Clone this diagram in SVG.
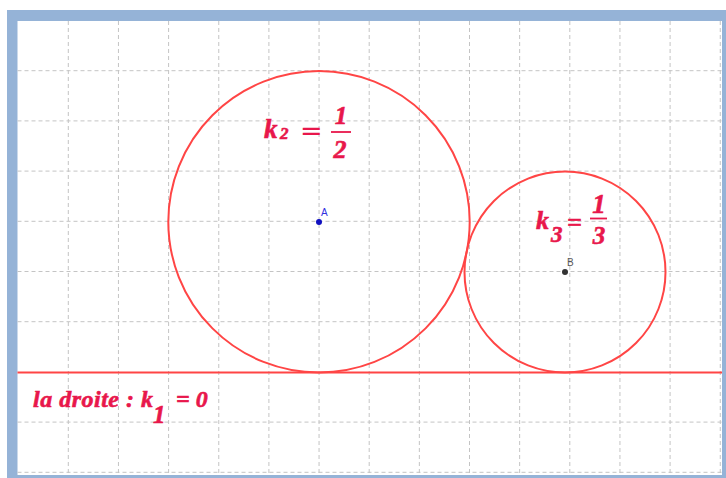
<svg xmlns="http://www.w3.org/2000/svg" width="726" height="478" viewBox="0 0 726 478">
<defs>
<style>
.grid line{stroke:#c4c4c4;stroke-width:1;stroke-dasharray:4,3}
.circ{fill:none;stroke:#ff4545;stroke-width:2}
.lbl{fill:#e8174b;stroke:#e8174b;stroke-width:0.6;font-family:"Liberation Serif","Times New Roman",serif;font-weight:bold;font-style:italic}
.bar{stroke:#e8174b;stroke-width:1.8}
.pt{font-family:"Liberation Sans",Arial,sans-serif;font-size:10px}
</style>
</defs>
<rect x="0" y="0" width="726" height="478" fill="#ffffff"/>
<rect x="7" y="10" width="719" height="468" fill="#95b3d7"/>
<rect x="17.5" y="21" width="704.5" height="454" fill="#ffffff"/>
<g class="grid">
<line x1="68.3" y1="21" x2="68.3" y2="475"/>
<line x1="118.45" y1="21" x2="118.45" y2="475"/>
<line x1="168.6" y1="21" x2="168.6" y2="475"/>
<line x1="218.75" y1="21" x2="218.75" y2="475"/>
<line x1="268.9" y1="21" x2="268.9" y2="475"/>
<line x1="319.05" y1="21" x2="319.05" y2="475"/>
<line x1="369.2" y1="21" x2="369.2" y2="475"/>
<line x1="419.35" y1="21" x2="419.35" y2="475"/>
<line x1="469.5" y1="21" x2="469.5" y2="475"/>
<line x1="519.65" y1="21" x2="519.65" y2="475"/>
<line x1="569.8" y1="21" x2="569.8" y2="475"/>
<line x1="619.95" y1="21" x2="619.95" y2="475"/>
<line x1="670.1" y1="21" x2="670.1" y2="475"/>
<line x1="720.25" y1="21" x2="720.25" y2="475"/>
<line x1="17.5" y1="70.7" x2="722" y2="70.7"/>
<line x1="17.5" y1="120.9" x2="722" y2="120.9"/>
<line x1="17.5" y1="171.1" x2="722" y2="171.1"/>
<line x1="17.5" y1="221.3" x2="722" y2="221.3"/>
<line x1="17.5" y1="271.5" x2="722" y2="271.5"/>
<line x1="17.5" y1="321.7" x2="722" y2="321.7"/>
<line x1="17.5" y1="422.1" x2="722" y2="422.1"/>
<line x1="17.5" y1="472.3" x2="722" y2="472.3"/>
</g>
<g id="line-k1">
<line x1="17.5" y1="372.5" x2="722" y2="372.5" stroke="#ff4545" stroke-width="2.2"/>
<text class="lbl" x="33" y="407" font-size="24" textLength="120" lengthAdjust="spacing">la droite : k</text>
<text class="lbl" x="153" y="423" font-size="25">1</text>
<text class="lbl" x="176" y="407" font-size="24">= 0</text>
</g>
<g id="circle-A">
<circle class="circ" cx="319" cy="221.8" r="150.7"/>
<circle cx="319" cy="222" r="3" fill="#1010c0"/>
<text class="pt" x="321" y="216" fill="#3030e0">A</text>
<text class="lbl" x="264" y="138" font-size="27">k</text>
<text class="lbl" x="280" y="139" font-size="17">2</text>
<text x="300" y="140" font-size="27" fill="#e8174b" font-family="DejaVu Sans,sans-serif">=</text>
<line class="bar" x1="331" y1="132" x2="351" y2="132"/>
<text class="lbl" x="341" y="124" font-size="25" text-anchor="middle">1</text>
<text class="lbl" x="340" y="158" font-size="26" text-anchor="middle">2</text>
</g>
<g id="circle-B">
<circle class="circ" cx="565" cy="272" r="100.5"/>
<circle cx="565" cy="272" r="3" fill="#333333"/>
<text class="pt" x="567" y="266" fill="#555555">B</text>
<text class="lbl" x="536" y="229" font-size="26">k</text>
<text class="lbl" x="551" y="242" font-size="23">3</text>
<text class="lbl" x="567" y="231" font-size="26" font-style="normal">=</text>
<line class="bar" x1="590" y1="218.5" x2="607" y2="218.5"/>
<text class="lbl" x="599" y="213" font-size="27" text-anchor="middle">1</text>
<text class="lbl" x="599" y="244" font-size="25" text-anchor="middle">3</text>
</g>
</svg>
